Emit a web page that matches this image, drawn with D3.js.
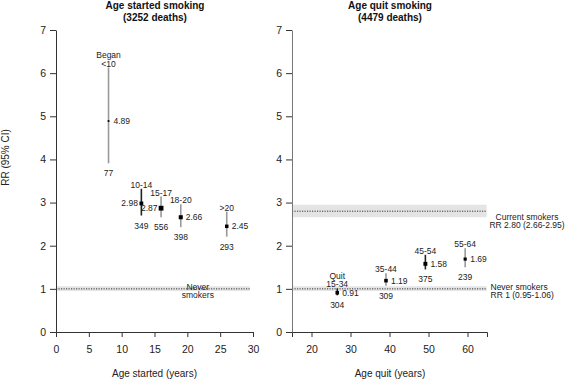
<!DOCTYPE html>
<html>
<head>
<meta charset="utf-8">
<script src="https://cdn.jsdelivr.net/npm/d3@7/dist/d3.min.js"></script>
<style>
  html, body { margin: 0; padding: 0; background: #fff; }
  svg { display: block; font-family: "Liberation Sans", Arial, sans-serif; }
</style>
</head>
<body>
<svg id="chart" width="565" height="381"></svg>
<script>
// ---------- data ----------
const startedLabels = ["Began\n<10", "10-14", "15-17", "18-20", ">20"];
const startedAge    = [8, 13, 16, 19, 26];
const startedRR     = [4.89, 2.98, 2.87, 2.66, 2.45];
const startedLo     = [3.91, 2.70, 2.66, 2.43, 2.21];
const startedHi     = [6.13, 3.32, 3.14, 2.96, 2.79];
const startedDeaths = [77, 349, 556, 398, 293];

const quitLabels = ["Quit\n15-34", "35-44", "45-54", "55-64"];
const quitAge    = [26.6, 39.1, 49.2, 59.4];
const quitRR     = [0.91, 1.19, 1.58, 1.69];
const quitLo     = [0.85, 1.07, 1.45, 1.50];
const quitHi     = [1.01, 1.36, 1.79, 1.94];
const quitDeaths = [304, 309, 375, 239];

const neverRR = [1, 0.95, 1.06];     // estimate, lower, upper
const currentRR = [2.80, 2.66, 2.95];

const yTicks = [0, 1, 2, 3, 4, 5, 6, 7];
const startedTicks = [0, 5, 10, 15, 20, 25, 30];
const quitTicks = [20, 30, 40, 50, 60];

// ---------- style config ----------
const darkCI = new Set(["10-14", "Quit\n15-34", "45-54"]);
const leftValue = new Set(["10-14", "15-17"]);

const svg = d3.select("#chart");
const fontAnn = 8.5;

const y = d3.scaleLinear().domain([0, 7]).range([332, 30]);
const xL = d3.scaleLinear().domain([0, 30]).range([56, 253]);
const xR = d3.scaleLinear().domain([15, 65]).range([292, 487]);
const sizeScale = d3.scaleSqrt().domain([0, 556]).range([0, 4.8]);

function styleAxis(g) {
  g.selectAll("path, line").attr("stroke", "#333").attr("stroke-width", 1);
  g.selectAll("text").attr("font-family", "Liberation Sans, Arial, sans-serif")
    .attr("font-size", 10.5).attr("fill", "#222");
}

function refBand(x, x0, x1, vals) {
  svg.append("rect")
    .attr("x", x(x0)).attr("width", x(x1) - x(x0))
    .attr("y", y(vals[2])).attr("height", y(vals[1]) - y(vals[2]))
    .attr("fill", "#e4e4e4");
  svg.append("line")
    .attr("x1", x(x0)).attr("x2", x(x1))
    .attr("y1", y(vals[0])).attr("y2", y(vals[0]))
    .attr("stroke", "#222").attr("stroke-width", 0.9)
    .attr("stroke-dasharray", "1.2,1.3");
}

function multiText(g, x, yBase, lines, anchor) {
  const n = lines.length;
  lines.forEach((t, i) => {
    g.append("text").attr("x", x).attr("y", yBase - (n - 1 - i) * 8.5)
      .attr("text-anchor", anchor || "middle")
      .attr("font-size", fontAnn).attr("fill", "#222").text(t);
  });
}

function panel(x, labels, ages, rr, lo, hi, deaths) {
  const g = svg.append("g");
  labels.forEach((lab, i) => {
    const cx = x(ages[i]);
    g.append("line")
      .attr("x1", cx).attr("x2", cx)
      .attr("y1", y(lo[i])).attr("y2", y(hi[i]))
      .attr("stroke", darkCI.has(lab) ? "#222" : "#999")
      .attr("stroke-width", 1.6);
    const s = sizeScale(deaths[i]);
    g.append("rect")
      .attr("x", cx - s / 2).attr("y", y(rr[i]) - s / 2)
      .attr("width", s).attr("height", s).attr("fill", "#000");
    // category label above
    multiText(g, cx, y(hi[i]) - 1, lab.split("\n"), "middle");
    // value label
    const left = leftValue.has(lab);
    g.append("text")
      .attr("x", left ? cx - 3.5 : cx + 5)
      .attr("y", y(rr[i]) + 3)
      .attr("text-anchor", left ? "end" : "start")
      .attr("font-size", fontAnn).attr("fill", "#222")
      .text(rr[i].toFixed(2));
    // deaths below
    g.append("text")
      .attr("x", cx).attr("y", y(lo[i]) + 13)
      .attr("text-anchor", "middle")
      .attr("font-size", fontAnn).attr("fill", "#222")
      .text(deaths[i]);
  });
}

// ---------- reference bands ----------
refBand(xL, 0, 29.5, neverRR);
refBand(xR, 15, 64.9, neverRR);
refBand(xR, 15, 64.9, currentRR);

// ---------- axes ----------
const yAxisL = svg.append("g").attr("transform", "translate(56,0)")
  .call(d3.axisLeft(y).tickValues(yTicks).tickFormat(d3.format("d")).tickSize(6).tickSizeOuter(0).tickPadding(4));
styleAxis(yAxisL);
const xAxisL = svg.append("g").attr("transform", "translate(0,332)")
  .call(d3.axisBottom(xL).tickValues(startedTicks).tickSize(5).tickSizeOuter(0).tickPadding(9));
styleAxis(xAxisL);

const yAxisR = svg.append("g").attr("transform", "translate(292,0)")
  .call(d3.axisLeft(y).tickValues(yTicks).tickFormat(d3.format("d")).tickSize(6).tickSizeOuter(0).tickPadding(4));
styleAxis(yAxisR);
yAxisR.select(".domain").attr("stroke", "#777");
const xAxisR = svg.append("g").attr("transform", "translate(0,332)")
  .call(d3.axisBottom(xR).tickValues(quitTicks).tickSize(5).tickSizeOuter(5).tickPadding(9));
styleAxis(xAxisR);

// ---------- data marks ----------
panel(xL, startedLabels, startedAge, startedRR, startedLo, startedHi, startedDeaths);
panel(xR, quitLabels, quitAge, quitRR, quitLo, quitHi, quitDeaths);

// ---------- annotations ----------
const ann = svg.append("g");
multiText(ann, xL(21.6), y(neverRR[0]) + 9.5, ["Never", "smokers"], "middle");
multiText(ann, 490.5, y(neverRR[0]) + 9.5, ["Never smokers", "RR " + neverRR[0] + " (" + neverRR[1].toFixed(2) + "-" + neverRR[2].toFixed(2) + ")"], "start");
multiText(ann, 527, y(currentRR[0]) + 17, ["Current smokers", "RR " + currentRR[0].toFixed(2) + " (" + currentRR[1].toFixed(2) + "-" + currentRR[2].toFixed(2) + ")"], "middle");

// ---------- titles ----------
function title(x, lines) {
  lines.forEach((t, i) => {
    svg.append("text").attr("x", x).attr("y", 9 + i * 12)
      .attr("text-anchor", "middle").attr("font-size", 10)
      .attr("font-weight", "bold").attr("fill", "#111").text(t);
  });
}
title(155, ["Age started smoking", "(3252 deaths)"]);
title(390, ["Age quit smoking", "(4479 deaths)"]);

svg.append("text").attr("x", 154.5).attr("y", 377).attr("text-anchor", "middle")
  .attr("font-size", 10).attr("fill", "#222").text("Age started (years)");
svg.append("text").attr("x", 390).attr("y", 377).attr("text-anchor", "middle")
  .attr("font-size", 10).attr("fill", "#222").text("Age quit (years)");
svg.append("text").attr("transform", "translate(9,157.5) rotate(-90)")
  .attr("text-anchor", "middle").attr("font-size", 10).attr("fill", "#222")
  .text("RR (95% CI)");
</script>
</body>
</html>
